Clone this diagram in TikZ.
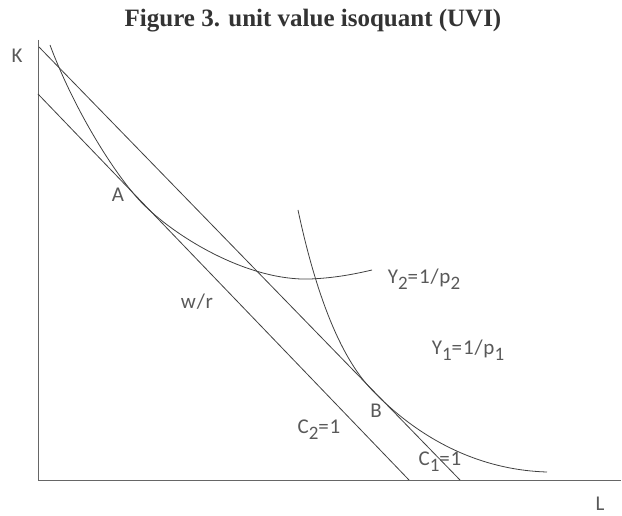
\documentclass[tikz,border=0pt]{standalone}
\usepackage{fontspec}
\setmainfont{Carlito}
\newfontfamily\titlefont{Liberation Serif}
\newcommand{\lowsub}[1]{\raisebox{-0.28em}{\fontsize{19}{21}\selectfont #1}}
\begin{document}
\begin{tikzpicture}[x=1pt,y=-1pt,
  curve/.style={draw=black!75,line width=0.8pt},
  axis/.style={draw=black!60,line width=0.9pt},
  lbl/.style={text=black!65,font=\fontsize{21}{23}\selectfont\addfontfeature{LetterSpace=4},inner sep=0pt},
  ttl/.style={font=\titlefont\bfseries\fontsize{25}{27}\selectfont,text=black!80,inner sep=0pt}]
\useasboundingbox (0,0) rectangle (622,516);
% title
\node[ttl] (title) at (313,21) {Figure 3. unit value isoquant (UVI)};
% axes
\coordinate (O) at (38,480);
\coordinate (Ktop) at (38,40);
\coordinate (Lend) at (621,480);
\draw[axis] (Ktop) -- (O) -- (Lend);
\node[lbl] (K) at (17,56) {K};
\node[lbl] (L) at (600,504) {L};
% budget lines
\coordinate (c1a) at (39,47);
\coordinate (c1b) at (460,480);
\coordinate (c2a) at (38,94);
\coordinate (c2b) at (409,480);
\draw[curve] (c1a) -- (c1b);
\draw[curve] (c2a) -- (c2b);
% isoquant Y2
\coordinate (y2s) at (50,45);
\coordinate (Apt) at (145,206);
\coordinate (y2m) at (310,279);
\coordinate (y2e) at (372,270);
\draw[curve] (y2s) .. controls (75,112) and (118,180) .. (Apt)
  .. controls (180,240) and (250,281) .. (y2m)
  .. controls (335,278) and (355,274) .. (y2e);
% isoquant Y1
\coordinate (y1s) at (298,210);
\coordinate (Bpt) at (372,390);
\coordinate (y1e) at (547,472);
\draw[curve] (y1s) .. controls (315,290) and (339,356) .. (Bpt)
  .. controls (420,440) and (480,470) .. (y1e);
% labels
\node[lbl] (A) at (118,195) {A};
\node[lbl] (B) at (376,411) {B};
\node[lbl] (wr) at (197,302) {w/r};
\node[lbl] (Y2) at (424,279) {Y\lowsub{2}=1/p\lowsub{2}};
\node[lbl] (Y1) at (468,350) {Y\lowsub{1}=1/p\lowsub{1}};
\node[lbl] (C2) at (319,430) {C\lowsub{2}=1};
\node[lbl] (C1) at (440,462) {C\lowsub{1}=1};
\end{tikzpicture}
\end{document}
